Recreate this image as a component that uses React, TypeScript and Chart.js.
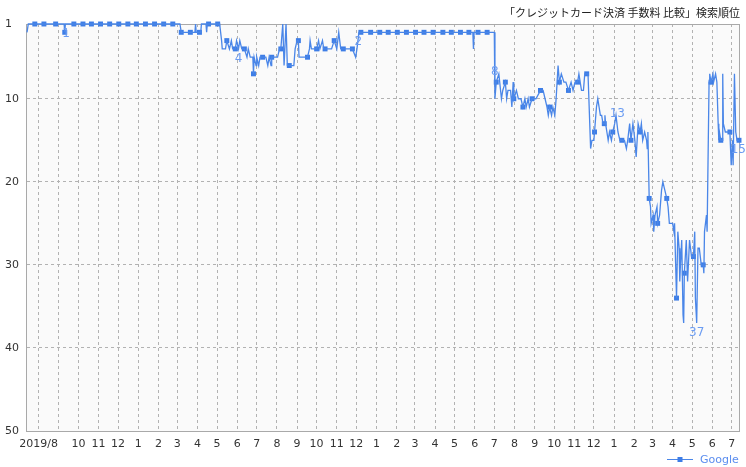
import React, { useEffect, useRef } from 'react';
import { Chart, registerables } from 'chart.js';

Chart.register(...registerables);

// ---- text ----
const TITLE = '「クレジットカード決済 手数料 比較」検索順位';
const SERIES_NAME = 'Google';

// x values are days counted from 2019-08-01 (day 0)
const START_UTC = Date.UTC(2019, 7, 1);
const X_MIN_DAY = -18;
const X_MAX_DAY = 1076;

// month tick labels, one per month from 2019/8 to 2022/7 ("9" is hidden in the original)
const monthTickLabels = [
  '2019/8', '', '10', '11', '12',
  '1', '2', '3', '4', '5', '6', '7', '8', '9', '10', '11', '12',
  '1', '2', '3', '4', '5', '6', '7', '8', '9', '10', '11', '12',
  '1', '2', '3', '4', '5', '6', '7',
];

const yTickValues = [1, 10, 20, 30, 40, 50];

// ---- search rank history (day, rank) ----
const lineDays = [
  -18, -16, 39, 40, 41, 217, 219, 240, 241, 242, 249, 250, 257, 258, 259, 278,
  281, 282, 287, 289, 293, 296, 298, 302, 304, 307, 309, 312, 316, 320, 322, 325, 329, 330, 331, 334, 335, 338, 340, 344, 349, 352, 354, 357, 358, 367, 370, 372,
  375, 377, 380, 382, 392, 394, 397, 399, 400, 413, 416, 417, 419, 427, 430, 432, 436, 438, 450, 454, 458, 461, 464, 482, 487, 489, 492, 667, 668, 669, 700,
  701, 703, 707, 711, 713, 717, 719, 721, 725, 727, 729, 730, 734, 737, 741, 744, 747, 749, 752, 754, 758, 764, 771, 775, 778, 781, 783, 785, 788, 790, 793, 795, 798, 800, 803, 807, 810, 814, 818, 821, 824, 828, 830, 834, 837, 839, 842, 844,
  848, 850, 853, 854, 857, 859, 863, 865, 867, 869, 870, 871, 873, 875, 877, 880, 882, 885, 887, 890, 893, 896, 900, 903, 905, 908, 910, 913, 916, 918, 921, 924, 926, 928, 931, 934, 935, 936,
  938, 940, 941, 944, 945, 947, 950, 951, 954, 957, 959, 962, 965, 967, 969, 974, 976, 977, 980, 982, 984, 985, 986, 988, 990, 991, 992, 995, 997, 1000, 1003, 1006, 1008, 1009, 1011, 1013, 1015, 1018, 1021, 1022, 1023, 1026, 1027,
  1030, 1031, 1033, 1036, 1037, 1040, 1042, 1044, 1045, 1046, 1048, 1050, 1051, 1052, 1055, 1062, 1063, 1064, 1066, 1067, 1069, 1071, 1073, 1076,
];
const lineRanks = [
  2, 1, 1, 2, 1, 1, 2, 2, 1, 2, 2, 1, 1, 2, 1, 1,
  3, 4, 4, 3, 4, 3, 4, 4, 3, 4, 3, 4, 4, 5, 4, 5, 5, 7, 5, 6, 5, 6, 5, 5, 5, 6, 5, 6, 5, 5, 4, 4,
  1, 6, 1, 6, 6, 4, 3, 3, 5, 5, 4, 3, 4, 4, 3, 4, 3, 4, 4, 3, 4, 2, 4, 4, 5, 4, 2, 2, 4, 2, 2,
  10, 8, 7, 10, 9, 8, 10, 9, 9, 11, 8, 10, 9, 10, 10, 11, 10, 11, 10, 11, 10, 10, 9, 9, 10, 11, 12, 11, 12, 11, 12, 10, 6, 8, 7, 8, 8, 9, 8, 9, 8, 8, 7, 9, 9, 7, 7, 7,
  16, 15, 15, 14, 11, 10, 12, 12, 13, 13, 12, 13, 14, 15, 14, 15, 14, 13, 12, 14, 15, 15, 15, 16, 15, 13, 15, 13, 15, 17, 13, 14, 13, 15, 14, 15, 16, 14,
  22, 23, 25, 24, 26, 24, 23, 25, 24, 21, 20, 21, 22, 23, 25, 25, 26, 25, 34, 26, 28, 32, 30, 27, 36, 37, 31, 27, 32, 27, 29, 29, 26, 34, 37, 28, 28, 30, 30, 31, 26, 24, 26,
  8, 7, 8, 7, 8, 7, 8, 13, 15, 14, 15, 15, 7, 13, 14, 14, 16, 18, 15, 18, 7, 14, 15, 15,
];

// ---- bi-weekly marker points (day, rank) ----
const markerDays = [
  -6, 8, 26, 40, 54, 68, 81, 95, 109, 123, 137, 150, 164, 178, 192,
  206, 219, 233, 247, 261, 275, 289, 302, 316, 330, 344, 358, 372, 385, 399,
  413, 427, 440, 454, 468, 482, 495, 510, 524, 537, 551, 565, 579, 592, 606,
  621, 634, 648, 661, 675, 689, 703, 717, 730, 744, 758, 771, 785, 800, 814,
  828, 842, 854, 869, 882, 896, 910, 924, 938, 951, 965, 980, 992, 1006, 1021,
  1033, 1048, 1062, 1076,
];
const markerRanks = [
  1, 1, 1, 2, 1, 1, 1, 1, 1, 1, 1, 1, 1, 1, 1,
  1, 2, 2, 2, 1, 1, 3, 4, 4, 7, 5, 5, 4, 6, 3,
  5, 4, 4, 3, 4, 4, 2, 2, 2, 2, 2, 2, 2, 2, 2,
  2, 2, 2, 2, 2, 2, 8, 8, 10, 11, 10, 9, 11, 8, 9,
  8, 7, 14, 13, 14, 15, 15, 14, 22, 25, 22, 34, 31, 29, 30,
  8, 15, 14, 15,
];

// ---- value annotations ----
const labelDays = [42, 307, 491, 701, 889, 1011, 1075];
const labelValues = [1, 4, 2, 8, 13, 37, 15];
const labelBelow = [true, true, true, false, false, true, true];

const LINE_COLOR = '#4a86e8';
const MARKER_COLOR = '#3d7de6';
const LABEL_COLOR = '#6b9cf2';
const TICK_FONT = { family: 'DejaVu Sans', size: 11 };

export default function App() {
  const ref = useRef<HTMLCanvasElement>(null);

  useEffect(() => {
    const canvas = ref.current;
    if (!canvas) return;
    const monthDays = monthTickLabels.map(
      (_, i) => (Date.UTC(2019, 7 + i, 1) - START_UTC) / 86400000
    );

    const decor = {
      id: 'decor',
      beforeDraw(chart: any) {
        const { ctx, chartArea: a } = chart;
        ctx.save();
        ctx.fillStyle = '#fafafa';
        ctx.fillRect(a.left, a.top, a.right - a.left, a.bottom - a.top);
        ctx.restore();
      },
      beforeDatasetsDraw(chart: any) {
        const { ctx, chartArea: a } = chart;
        ctx.save();
        ctx.strokeStyle = '#a9a9a9';
        ctx.lineWidth = 1;
        ctx.setLineDash([]);
        const l = Math.round(a.left) - 0.5;
        const t = Math.round(a.top) + 0.5;
        const r = Math.round(a.right) + 0.5;
        const b = Math.round(a.bottom) + 0.5;
        ctx.strokeRect(l, t, r - l, b - t);
        ctx.restore();
      },
      afterDraw(chart: any) {
        const { ctx } = chart;
        const xs = chart.scales.x;
        const ys = chart.scales.y;
        ctx.save();
        // value annotations
        ctx.font = '12px "DejaVu Sans"';
        ctx.fillStyle = LABEL_COLOR;
        ctx.textAlign = 'center';
        ctx.textBaseline = 'middle';
        labelDays.forEach((d, i) => {
          const x = xs.getPixelForValue(d);
          const y = ys.getPixelForValue(labelValues[i]) + (labelBelow[i] ? 10 : -10);
          ctx.fillText(String(labelValues[i]), x, y);
        });
        // title
        ctx.font = '11px "Noto Sans CJK JP"';
        ctx.fillStyle = '#222';
        ctx.textAlign = 'right';
        ctx.textBaseline = 'middle';
        ctx.fillText(TITLE, 740, 13);
        // legend
        const ds = chart.data.datasets[0];
        const ly = 459.5;
        ctx.strokeStyle = ds.borderColor;
        ctx.lineWidth = 1;
        ctx.beginPath();
        ctx.moveTo(667, ly);
        ctx.lineTo(693, ly);
        ctx.stroke();
        ctx.fillStyle = MARKER_COLOR;
        ctx.fillRect(677.5, ly - 2.5, 5, 5);
        ctx.font = '11px "DejaVu Sans"';
        ctx.fillStyle = '#5b8def';
        ctx.textAlign = 'left';
        ctx.fillText(ds.label, 700, ly + 0.5);
        ctx.restore();
      },
    };

    const chart = new Chart(canvas, {
      type: 'line',
      data: {
        datasets: [
          {
            label: SERIES_NAME,
            data: lineDays.map((d, i) => ({ x: d, y: lineRanks[i] })),
            borderColor: LINE_COLOR,
            borderWidth: 1.3,
            pointRadius: 0,
            tension: 0,
            clip: false,
          } as any,
          {
            label: SERIES_NAME + ' markers',
            data: markerDays.map((d, i) => ({ x: d, y: markerRanks[i] })),
            showLine: false,
            pointStyle: 'rect',
            pointRadius: 3.5,
            pointBackgroundColor: MARKER_COLOR,
            pointBorderWidth: 0,
            clip: false,
          } as any,
        ],
      },
      options: {
        animation: false,
        responsive: false,
        events: [],
        layout: { padding: { left: 5, top: 24, right: 7, bottom: 0 } },
        plugins: {
          legend: { display: false },
          tooltip: { enabled: false },
          title: { display: false },
        },
        scales: {
          x: {
            type: 'linear',
            min: X_MIN_DAY,
            max: X_MAX_DAY,
            afterBuildTicks: (s: any) => {
              s.ticks = monthDays.map((v) => ({ value: v }));
            },
            afterFit: (s: any) => {
              s.height = 36;
            },
            ticks: {
              autoSkip: false,
              maxRotation: 0,
              minRotation: 0,
              padding: 7,
              font: TICK_FONT,
              color: '#333',
              callback: (_v: any, i: number) => monthTickLabels[i],
            },
            grid: { color: '#b2b2b2', lineWidth: 1, drawTicks: false },
            border: { display: false, dash: [3, 3] },
          },
          y: {
            type: 'linear',
            reverse: true,
            min: 1,
            max: 50,
            afterBuildTicks: (s: any) => {
              s.ticks = yTickValues.map((v) => ({ value: v }));
            },
            afterFit: (s: any) => {
              s.width = 22;
            },
            ticks: {
              crossAlign: 'far',
              padding: 4,
              font: TICK_FONT,
              color: '#333',
            },
            grid: { color: '#b2b2b2', lineWidth: 1, drawTicks: false },
            border: { display: false, dash: [3, 3] },
          },
        },
      } as any,
      plugins: [decor],
    });

    return () => chart.destroy();
  }, []);

  return (
    <div style={{ position: 'absolute', left: 0, top: 0, width: 746, height: 467, background: '#fff' }}>
      <canvas ref={ref} width={746} height={467} style={{ display: 'block' }} />
    </div>
  );
}
